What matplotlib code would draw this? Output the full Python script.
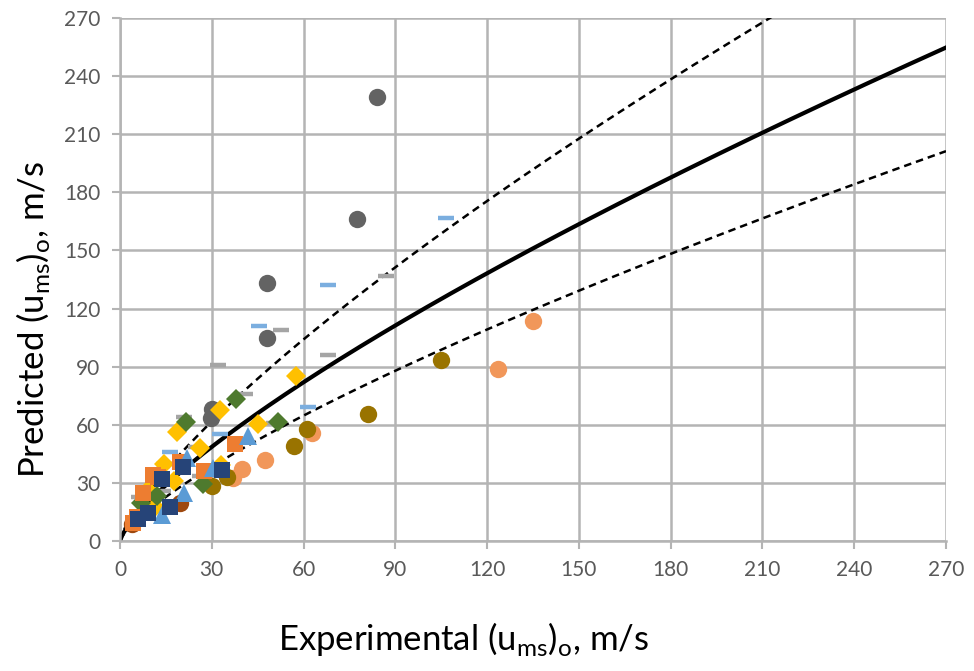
import numpy as np
import matplotlib
matplotlib.use("Agg")
import matplotlib.pyplot as plt

plt.rcParams['font.family'] = ['Lato', 'DejaVu Sans']

# model curve: predicted = a * exp^b, with +/- bands
curve_a, curve_b = 3.74, 0.754
upper_factor, lower_factor = 1.27, 0.79

ticks = [0, 30, 60, 90, 120, 150, 180, 210, 240, 270]

# (experimental, predicted) pairs per data set
light_orange_x = [135, 123.5, 62.7, 47.4, 40, 37]
light_orange_y = [113.6, 89, 55.5, 42, 37, 32.5]

olive_x = [105, 81, 61, 57, 30, 35]
olive_y = [93.5, 65.6, 58, 48.8, 28.5, 33]

brown_x = [4, 19.6]
brown_y = [9, 19.8]

grey_circle_x = [84, 77.5, 48, 48, 30, 29.7]
grey_circle_y = [229, 166, 133, 105, 68, 63.5]

blue_dash_x = [106.5, 68, 45.5, 61.4, 32.7, 16.3]
blue_dash_y = [167, 132, 111, 69, 55, 46]

grey_dash_x = [87, 52.5, 68, 32, 40.8, 21, 50.3, 25, 14.5, 26, 14, 6.3]
grey_dash_y = [137, 109, 96, 91, 76, 64, 61, 48.5, 40, 33.5, 26, 22.5]

yellow_x = [57.5, 45, 32.7, 18.6, 26, 14.5, 17.5, 33, 9, 11.4]
yellow_y = [85, 60.5, 67.6, 56.5, 48, 39.5, 31, 39, 26.5, 17.5]

green_x = [38, 51.6, 21.5, 27, 12, 7]
green_y = [73.5, 61.5, 61.5, 29.5, 23, 19.5]

orange_sq_x = [37.5, 27.5, 12.4, 19.6, 7.5, 5.5, 4.3, 10.8]
orange_sq_y = [50, 36, 33, 41, 25, 12.4, 9.3, 34]

triangle_x = [41.8, 21.8, 30.5, 21, 13.7]
triangle_y = [54, 43, 37.5, 24.7, 13.5]

navy_x = [6, 9, 16.3, 13.7, 20.6, 33.5]
navy_y = [11.5, 14.3, 17.8, 31.8, 38, 36.8]

fig = plt.figure(figsize=(9.74, 6.71), dpi=100)
ax = fig.add_axes([120 / 974, 1 - 541 / 671, 826 / 974, 523 / 671])

grid_c = '#B4B4B4'
ax.set_xlim(0, 270)
ax.set_ylim(0, 270)
ax.set_xticks(ticks)
ax.set_yticks(ticks)
ax.grid(True, color=grid_c, linewidth=1.8, zorder=0)
ax.set_axisbelow(True)
for s in ['top', 'right']:
    ax.spines[s].set_visible(False)
for s in ['left', 'bottom']:
    ax.spines[s].set_color(grid_c)
    ax.spines[s].set_linewidth(1.8)
ax.tick_params(colors=grid_c, labelcolor='#595959', labelsize=15, length=6,
               width=1.5, pad=8)

xs = np.linspace(0, 270, 400)
pred = curve_a * xs ** curve_b
ax.plot(xs, pred, color='black', lw=3, zorder=2, clip_on=True)
ax.plot(xs, pred * upper_factor, color='black', lw=1.8, ls=(0, (3, 2)), zorder=2)
ax.plot(xs, pred * lower_factor, color='black', lw=1.8, ls=(0, (3, 2)), zorder=2)

ms = 12.5
ax.plot(light_orange_x, light_orange_y, 'o', color='#F1975A', ms=ms, mew=0, zorder=3)
ax.plot(olive_x, olive_y, 'o', color='#997300', ms=ms, mew=0, zorder=3)
ax.plot(brown_x, brown_y, 'o', color='#9E480E', ms=ms, mew=0, zorder=3)
ax.plot(grey_circle_x, grey_circle_y, 'o', color='#636363', ms=ms, mew=0, zorder=3)
ax.plot(blue_dash_x, blue_dash_y, '_', color='#7BAEDF', ms=12, mew=3.2, zorder=3)
ax.plot(grey_dash_x, grey_dash_y, '_', color='#A5A5A5', ms=12, mew=3.2, zorder=3)
ax.plot(yellow_x, yellow_y, 'D', color='#FFC000', ms=10.5, mew=0, zorder=3)
ax.plot(green_x, green_y, 'D', color='#4E7A2E', ms=10.5, mew=0, zorder=3)
ax.plot(orange_sq_x, orange_sq_y, 's', color='#ED7D31', ms=11.5, mew=0, zorder=3)
ax.plot(triangle_x, triangle_y, '^', color='#5B9BD5', ms=13, mew=0, zorder=3)
ax.plot(navy_x, navy_y, 's', color='#264478', ms=11.5, mew=0, zorder=3)

ax.set_xlabel(r'Experimental (u$_{\mathregular{ms}}$)$_{\mathregular{o}}$, m/s',
              fontsize=25)
ax.set_ylabel(r'Predicted (u$_{\mathregular{ms}}$)$_{\mathregular{o}}$, m/s',
              fontsize=25)
ax.xaxis.set_label_coords(0.416, -0.152)
ax.yaxis.set_label_coords(-0.082, 0.423)

fig.savefig('out.png', dpi=100)
